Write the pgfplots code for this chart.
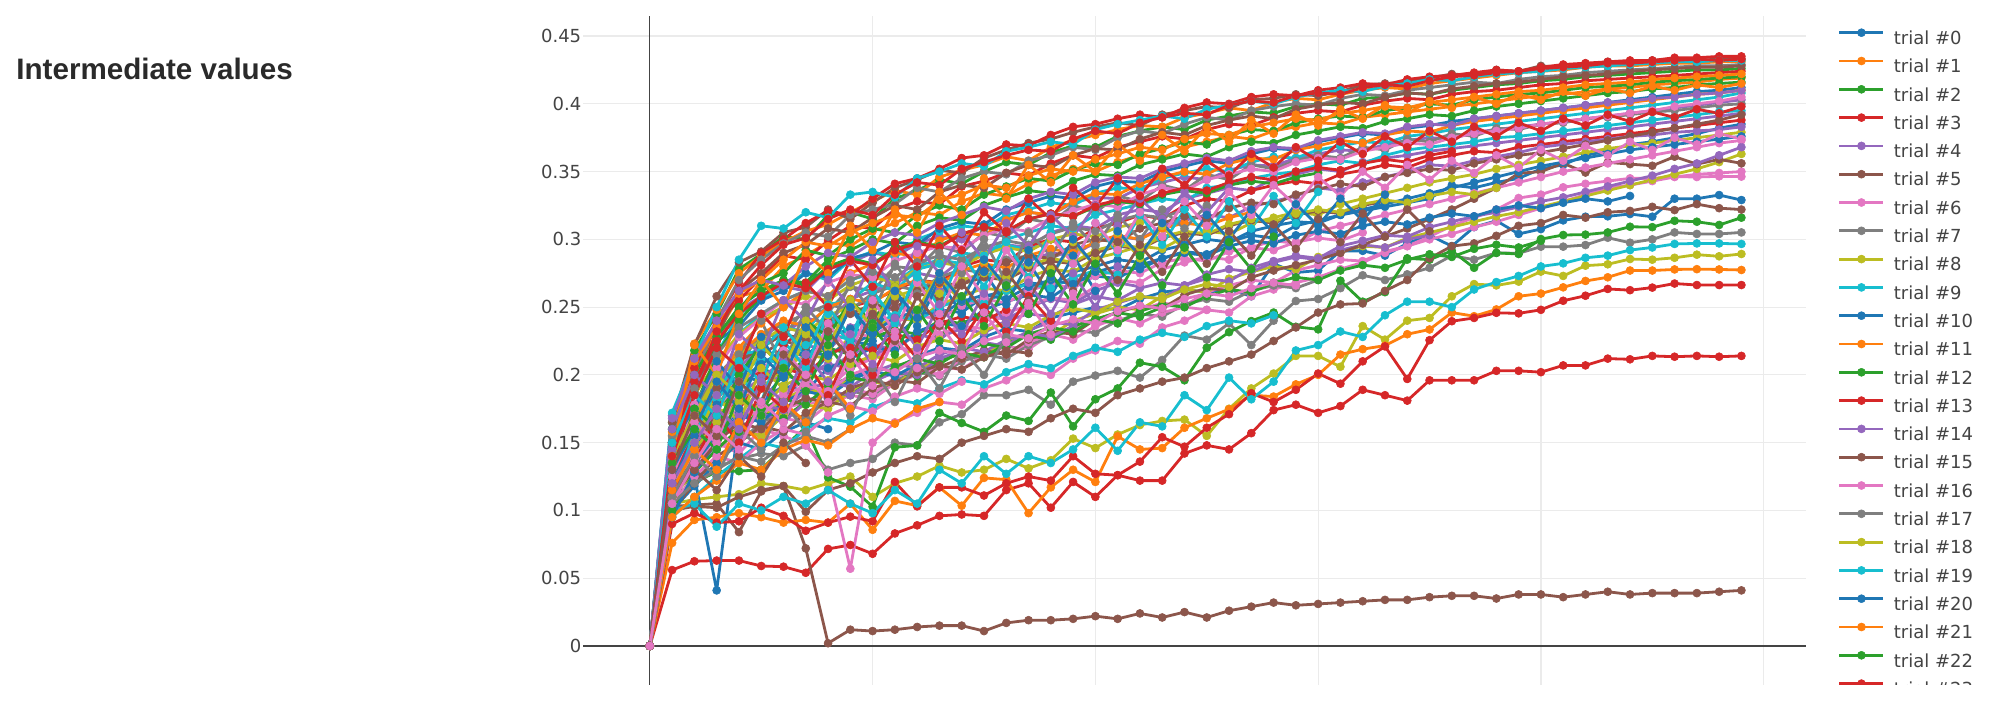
\documentclass[border=0pt]{standalone}
\usepackage{fontspec}
\setmainfont{DejaVu Sans}
\newfontfamily\titlefont{Liberation Sans}
\usepackage{pgfplots}
\pgfplotsset{compat=1.18}
\definecolor{c0}{HTML}{1F77B4}
\definecolor{c1}{HTML}{FF7F0E}
\definecolor{c2}{HTML}{2CA02C}
\definecolor{c3}{HTML}{D62728}
\definecolor{c4}{HTML}{9467BD}
\definecolor{c5}{HTML}{8C564B}
\definecolor{c6}{HTML}{E377C2}
\definecolor{c7}{HTML}{7F7F7F}
\definecolor{c8}{HTML}{BCBD22}
\definecolor{c9}{HTML}{17BECF}
\definecolor{tk}{HTML}{444444}
\definecolor{tt}{HTML}{2A2A2A}
\definecolor{gr}{HTML}{EBEBEB}
\newcommand{\T}[2]{\addplot[color=c#1] table[x expr=\coordindex,y index=0,header=false,row sep=\\]{#2\\};}
\begin{document}
\begin{tikzpicture}
\useasboundingbox (0,0) rectangle (999.5pt,350.5pt);
\node[anchor=base west, inner sep=0pt, text=tt, font=\titlefont\bfseries\fontsize{14.8}{16}\selectfont] at (8pt,310.5pt) {Intermediate values};
\begin{axis}[
 at={(291.5pt,8pt)}, anchor=south west, scale only axis, width=611.5pt, height=334.5pt,
 xmin=-3, xmax=51.9, ymin=-0.0288, ymax=0.4648,
 axis line style={draw=none}, tick style={draw=none},
 xtick={0,10,20,30,40,50}, xticklabels={},
 ytick={0,0.05,0.1,0.15,0.2,0.25,0.3,0.35,0.4,0.45},
 yticklabels={0,0.05,0.1,0.15,0.2,0.25,0.3,0.35,0.4,0.45},
 scaled y ticks=false,
 grid=major, major grid style={draw=gr, line width=0.6pt},
 extra x ticks={0}, extra x tick labels={}, extra x tick style={grid=major, major grid style={draw=tk, line width=0.6pt}},
 extra y ticks={0}, extra y tick labels={}, extra y tick style={grid=major, major grid style={draw=tk, line width=0.6pt}},
 yticklabel style={font=\fontsize{9}{9}\selectfont, text=tk, inner sep=0pt, xshift=-0.7pt},
 every axis plot/.append style={line width=1.4pt, mark=*, mark size=2pt, mark options={solid, line width=0.3pt}, line join=round},
 legend cell align=left,
 legend style={at={(1.0262,0.981)}, anchor=north west, draw=none, fill=none, inner sep=0pt, outer sep=0pt, font=\fontsize{9}{9}\selectfont, text=tk, row sep=4.3pt, column sep=4.5pt, nodes={inner sep=0pt, text height=7pt, text depth=2pt}},
 legend image code/.code={\draw[mark repeat=2,mark phase=2,#1] plot coordinates {(0pt,3.35pt)(11pt,3.35pt)(22pt,3.35pt)};},
 legend entries={trial \#0,trial \#1,trial \#2,trial \#3,trial \#4,trial \#5,trial \#6,trial \#7,trial \#8,trial \#9,trial \#10,trial \#11,trial \#12,trial \#13,trial \#14,trial \#15,trial \#16,trial \#17,trial \#18,trial \#19,trial \#20,trial \#21,trial \#22,trial \#23},
]
\T{0}{0\\0.125\\0.148\\0.160\\0.172\\0.165\\0.180\\0.188\\0.185\\0.198\\0.205\\0.203\\0.214\\0.220\\0.218\\0.228\\0.234\\0.232\\0.242\\0.246\\0.250\\0.248\\0.256\\0.261\\0.263\\0.261\\0.263\\0.258\\0.282\\0.2755\\0.277\\0.2915\\0.2915\\0.288\\0.297\\0.303\\0.295\\0.309\\0.3137\\0.304\\0.3076\\0.314\\0.3167\\0.317\\0.3187\\0.3167\\0.330\\0.330\\0.3327\\0.329}
\T{1}{0\\0.150\\0.205\\0.230\\0.258\\0.262\\0.280\\0.288\\0.298\\0.295\\0.306\\0.312\\0.320\\0.318\\0.328\\0.334\\0.332\\0.341\\0.347\\0.352\\0.350\\0.357\\0.362\\0.360\\0.368\\0.372\\0.376\\0.374\\0.380\\0.383\\0.386\\0.385\\0.390\\0.392\\0.394\\0.396\\0.398\\0.400\\0.402\\0.404\\0.406\\0.407\\0.409\\0.411\\0.412\\0.414\\0.415\\0.416\\0.418\\0.419}
\T{2}{0\\0.165\\0.218\\0.245\\0.278\\0.289\\0.302\\0.300\\0.318\\0.320\\0.315\\0.330\\0.336\\0.344\\0.341\\0.350\\0.357\\0.355\\0.364\\0.369\\0.368\\0.376\\0.380\\0.383\\0.381\\0.388\\0.391\\0.394\\0.393\\0.398\\0.400\\0.399\\0.404\\0.405\\0.408\\0.407\\0.410\\0.412\\0.414\\0.415\\0.417\\0.418\\0.420\\0.421\\0.422\\0.423\\0.424\\0.425\\0.425\\0.426}
\T{3}{0\\0.056\\0.0625\\0.063\\0.063\\0.059\\0.0585\\0.054\\0.0716\\0.0745\\0.068\\0.083\\0.089\\0.096\\0.097\\0.096\\0.115\\0.120\\0.102\\0.121\\0.110\\0.126\\0.122\\0.122\\0.142\\0.148\\0.145\\0.157\\0.174\\0.178\\0.172\\0.177\\0.189\\0.185\\0.181\\0.196\\0.196\\0.196\\0.203\\0.203\\0.202\\0.207\\0.207\\0.212\\0.2115\\0.214\\0.2134\\0.214\\0.2134\\0.214}
\T{4}{0\\0.170\\0.200\\0.228\\0.248\\0.258\\0.265\\0.262\\0.278\\0.283\\0.290\\0.287\\0.297\\0.302\\0.300\\0.310\\0.315\\0.320\\0.318\\0.327\\0.331\\0.330\\0.338\\0.342\\0.346\\0.344\\0.351\\0.355\\0.354\\0.360\\0.363\\0.366\\0.365\\0.370\\0.373\\0.375\\0.374\\0.379\\0.381\\0.383\\0.385\\0.387\\0.389\\0.391\\0.393\\0.395\\0.397\\0.399\\0.401\\0.403}
\T{5}{0\\0.103\\0.104\\0.105\\0.084\\0.114\\0.118\\0.072\\0.002\\0.012\\0.011\\0.012\\0.014\\0.015\\0.015\\0.011\\0.017\\0.019\\0.019\\0.020\\0.022\\0.020\\0.024\\0.021\\0.025\\0.021\\0.026\\0.029\\0.032\\0.030\\0.031\\0.032\\0.033\\0.034\\0.034\\0.036\\0.037\\0.037\\0.035\\0.038\\0.038\\0.036\\0.038\\0.040\\0.038\\0.039\\0.039\\0.039\\0.040\\0.041}
\T{6}{0\\0.118\\0.135\\0.150\\0.142\\0.160\\0.168\\0.165\\0.178\\0.185\\0.182\\0.194\\0.200\\0.206\\0.204\\0.215\\0.221\\0.219\\0.230\\0.235\\0.240\\0.238\\0.248\\0.253\\0.251\\0.261\\0.266\\0.270\\0.268\\0.277\\0.281\\0.285\\0.284\\0.291\\0.295\\0.300\\0.304\\0.309\\0.313\\0.318\\0.323\\0.328\\0.333\\0.338\\0.340\\0.343\\0.346\\0.348\\0.349\\0.350}
\T{7}{0\\0.120\\0.125\\0.132\\0.138\\0.142\\0.140\\0.148\\0.130\\0.135\\0.138\\0.150\\0.148\\0.165\\0.171\\0.185\\0.185\\0.189\\0.178\\0.195\\0.1995\\0.203\\0.198\\0.211\\0.229\\0.226\\0.238\\0.222\\0.240\\0.2545\\0.256\\0.264\\0.2735\\0.270\\0.2742\\0.279\\0.288\\0.285\\0.290\\0.2897\\0.2946\\0.2946\\0.2958\\0.3012\\0.2975\\0.300\\0.3051\\0.304\\0.304\\0.3051}
\T{8}{0\\0.105\\0.108\\0.110\\0.112\\0.120\\0.118\\0.115\\0.120\\0.125\\0.110\\0.120\\0.125\\0.133\\0.128\\0.130\\0.138\\0.131\\0.137\\0.153\\0.146\\0.156\\0.163\\0.166\\0.167\\0.155\\0.175\\0.190\\0.201\\0.214\\0.214\\0.206\\0.236\\0.226\\0.240\\0.242\\0.258\\0.267\\0.266\\0.2688\\0.2762\\0.273\\0.2806\\0.2816\\0.2855\\0.285\\0.2864\\0.2887\\0.2875\\0.2892}
\T{9}{0\\0.145\\0.190\\0.215\\0.245\\0.255\\0.268\\0.275\\0.270\\0.285\\0.291\\0.288\\0.300\\0.306\\0.310\\0.308\\0.318\\0.322\\0.327\\0.325\\0.334\\0.338\\0.337\\0.345\\0.349\\0.352\\0.350\\0.357\\0.361\\0.360\\0.366\\0.369\\0.372\\0.371\\0.376\\0.378\\0.381\\0.383\\0.385\\0.387\\0.389\\0.391\\0.393\\0.395\\0.397\\0.399\\0.401\\0.403\\0.405\\0.408}
\T{0}{0\\0.120\\0.125\\0.041\\0.165\\0.180\\0.200\\0.195\\0.215\\0.222\\0.230\\0.228\\0.242\\0.248\\0.246\\0.258\\0.262\\0.268\\0.266\\0.276\\0.280\\0.285\\0.283\\0.292\\0.296\\0.300\\0.298\\0.306\\0.310\\0.313\\0.312\\0.318\\0.321\\0.324\\0.327\\0.330\\0.340\\0.338\\0.342\\0.345\\0.352\\0.355\\0.362\\0.365\\0.370\\0.372\\0.375\\0.378\\0.382\\0.385}
\T{1}{0\\0.076\\0.093\\0.095\\0.098\\0.095\\0.091\\0.093\\0.091\\0.105\\0.0857\\0.107\\0.1035\\0.117\\0.1035\\0.124\\0.1227\\0.098\\0.117\\0.130\\0.121\\0.1547\\0.145\\0.146\\0.161\\0.168\\0.1747\\0.185\\0.184\\0.193\\0.200\\0.215\\0.219\\0.2216\\0.230\\0.2335\\0.246\\0.2433\\0.2483\\0.258\\0.260\\0.2646\\0.2693\\0.272\\0.277\\0.277\\0.2778\\0.278\\0.2778\\0.2774}
\T{2}{0\\0.110\\0.1205\\0.1286\\0.129\\0.130\\0.1466\\0.1613\\0.1244\\0.1175\\0.1028\\0.1466\\0.148\\0.172\\0.1645\\0.158\\0.170\\0.166\\0.187\\0.162\\0.182\\0.190\\0.209\\0.206\\0.196\\0.220\\0.2315\\0.2397\\0.246\\0.2355\\0.2336\\0.2695\\0.254\\0.261\\0.286\\0.285\\0.2915\\0.279\\0.290\\0.2892\\0.3002\\0.3032\\0.3035\\0.3051\\0.3093\\0.309\\0.3137\\0.313\\0.3106\\0.316}
\T{3}{0\\0.090\\0.098\\0.091\\0.092\\0.102\\0.096\\0.085\\0.091\\0.0954\\0.092\\0.121\\0.103\\0.117\\0.117\\0.111\\0.120\\0.125\\0.122\\0.140\\0.127\\0.126\\0.136\\0.154\\0.147\\0.161\\0.171\\0.1865\\0.180\\0.189\\0.201\\0.1935\\0.210\\0.221\\0.197\\0.2256\\0.2396\\0.242\\0.2458\\0.2454\\0.248\\0.2547\\0.2584\\0.2634\\0.2625\\0.2644\\0.2674\\0.2663\\0.2663\\0.2663}
\T{4}{0\\0.170\\0.172\\0.168\\0.185\\0.192\\0.200\\0.208\\0.203\\0.215\\0.222\\0.219\\0.230\\0.226\\0.238\\0.244\\0.241\\0.250\\0.256\\0.253\\0.262\\0.268\\0.265}
\T{5}{0\\0.100\\0.103\\0.102\\0.110\\0.115\\0.118\\0.099\\0.115\\0.120\\0.128\\0.135\\0.140\\0.138\\0.150\\0.155\\0.160\\0.158\\0.168\\0.175\\0.172\\0.185\\0.190\\0.195\\0.198\\0.205\\0.210\\0.215\\0.225\\0.235\\0.246\\0.252\\0.2527\\0.262\\0.270\\0.286\\0.295\\0.297\\0.3026\\0.310\\0.312\\0.318\\0.316\\0.320\\0.321\\0.324\\0.3216\\0.326\\0.323\\0.322}
\T{6}{0\\0.120\\0.138\\0.146\\0.152\\0.160\\0.155\\0.148\\0.128\\0.057\\0.150\\0.165\\0.172\\0.180\\0.178\\0.190\\0.196\\0.204\\0.200\\0.212\\0.218\\0.225\\0.223\\0.235\\0.240\\0.248\\0.246\\0.258\\0.263\\0.268\\0.272\\0.278\\0.283\\0.290\\0.295\\0.302\\0.310\\0.316\\0.322\\0.3305\\0.333\\0.3384\\0.341\\0.343\\0.345\\0.345\\0.3463\\0.346\\0.3465\\0.3463}
\T{7}{0\\0.130\\0.145\\0.155\\0.150\\0.165\\0.172\\0.168\\0.182\\0.188\\0.185\\0.196\\0.202\\0.199\\0.210\\0.215\\0.212\\0.222\\0.228\\0.233\\0.231\\0.240\\0.245\\0.243\\0.252\\0.256\\0.254\\0.262\\0.266\\0.264\\0.270}
\T{8}{0\\0.115\\0.140\\0.160\\0.175\\0.168\\0.182\\0.190\\0.186\\0.198\\0.195\\0.205\\0.210}
\T{9}{0\\0.100\\0.105\\0.088\\0.105\\0.100\\0.110\\0.105\\0.115\\0.105\\0.098\\0.115\\0.105\\0.130\\0.120\\0.140\\0.127\\0.140\\0.135\\0.145\\0.161\\0.144\\0.165\\0.162\\0.185\\0.174\\0.198\\0.182\\0.195\\0.218\\0.222\\0.232\\0.228\\0.244\\0.254\\0.254\\0.250\\0.263\\0.2685\\0.273\\0.280\\0.2823\\0.2864\\0.288\\0.2921\\0.294\\0.2966\\0.297\\0.297\\0.2966}
\T{0}{0\\0.100\\0.118\\0.135\\0.150\\0.145\\0.158\\0.165\\0.160}
\T{1}{0\\0.155\\0.223\\0.248\\0.275\\0.288\\0.298\\0.306\\0.311\\0.320\\0.328\\0.336\\0.333\\0.346\\0.351\\0.355\\0.361\\0.358\\0.368\\0.373\\0.377\\0.381\\0.384\\0.383\\0.390\\0.393\\0.397\\0.395\\0.401\\0.404\\0.403\\0.407\\0.410\\0.412\\0.411\\0.415\\0.417\\0.419\\0.421\\0.423\\0.424\\0.425\\0.427\\0.428\\0.428\\0.429\\0.430\\0.430\\0.431\\0.431}
\T{2}{0\\0.135\\0.158\\0.175\\0.190\\0.205\\0.198\\0.212\\0.220\\0.215\\0.228\\0.233\\0.230\\0.240\\0.238\\0.245}
\T{3}{0\\0.135\\0.200\\0.238\\0.255\\0.272\\0.288\\0.285\\0.299\\0.310\\0.308\\0.322\\0.328\\0.326\\0.339\\0.343\\0.349\\0.347\\0.356\\0.362\\0.360\\0.368\\0.372\\0.376\\0.374\\0.381\\0.385\\0.384\\0.390\\0.393\\0.395\\0.394\\0.399\\0.402\\0.404\\0.403\\0.407\\0.409\\0.410\\0.412\\0.414\\0.415\\0.417\\0.418\\0.419\\0.420\\0.421\\0.422\\0.423\\0.424}
\T{4}{0\\0.140\\0.165\\0.190\\0.205\\0.222\\0.230\\0.242\\0.238\\0.256\\0.262\\0.268\\0.275\\0.272\\0.285\\0.290\\0.296\\0.294\\0.305\\0.310\\0.308\\0.318\\0.322\\0.320\\0.330\\0.334\\0.338\\0.336\\0.345\\0.348\\0.352\\0.350\\0.357\\0.360\\0.362\\0.365\\0.367\\0.369\\0.371\\0.373\\0.375\\0.377\\0.379\\0.381\\0.383\\0.385\\0.387\\0.389\\0.391\\0.393}
\T{5}{0\\0.165\\0.222\\0.258\\0.283\\0.291\\0.305\\0.309\\0.322\\0.315\\0.327\\0.338\\0.344\\0.351\\0.349\\0.360\\0.366\\0.371\\0.374\\0.379\\0.383\\0.386\\0.384\\0.392\\0.395\\0.398\\0.397\\0.403\\0.404\\0.407\\0.406\\0.409\\0.414\\0.415\\0.416\\0.419\\0.422\\0.421\\0.425\\0.424\\0.428\\0.427\\0.429\\0.431\\0.430\\0.432\\0.433\\0.432\\0.433\\0.433}
\T{6}{0\\0.110\\0.130\\0.145\\0.160\\0.155\\0.175\\0.180\\0.178\\0.190\\0.186\\0.198\\0.205\\0.200\\0.212\\0.218\\0.215\\0.224\\0.230\\0.226\\0.236\\0.242\\0.238\\0.246\\0.250\\0.248}
\T{7}{0\\0.150\\0.175\\0.200\\0.208\\0.230\\0.228\\0.250\\0.246\\0.265\\0.262\\0.280\\0.278\\0.295\\0.290\\0.305\\0.302\\0.315\\0.312\\0.325\\0.320\\0.332\\0.328\\0.340\\0.336\\0.348\\0.344\\0.355\\0.352\\0.358\\0.362\\0.360\\0.368\\0.366\\0.374\\0.372\\0.378\\0.376\\0.382\\0.381\\0.385\\0.386\\0.389\\0.390\\0.392\\0.394\\0.395\\0.397\\0.399\\0.400}
\T{8}{0\\0.110\\0.128\\0.145\\0.160\\0.155\\0.170\\0.178\\0.175\\0.188\\0.195\\0.192\\0.205\\0.210\\0.216\\0.214\\0.225\\0.231\\0.229\\0.240\\0.245\\0.250\\0.248\\0.258\\0.263\\0.261\\0.271\\0.276\\0.280\\0.278\\0.287\\0.291\\0.295\\0.294\\0.301\\0.305\\0.309\\0.313\\0.317\\0.320\\0.324\\0.328\\0.332\\0.336\\0.340\\0.344\\0.348\\0.352\\0.357\\0.363}
\T{9}{0\\0.160\\0.175\\0.205\\0.230\\0.245\\0.255\\0.262\\0.258\\0.270\\0.275\\0.268\\0.280\\0.285\\0.282\\0.290\\0.296\\0.292\\0.300}
\T{0}{0\\0.160\\0.195\\0.225\\0.236\\0.255\\0.262\\0.275\\0.272\\0.286\\0.290\\0.298\\0.296\\0.308\\0.313\\0.311\\0.322\\0.327\\0.332\\0.330\\0.339\\0.343\\0.342\\0.350\\0.354\\0.358\\0.356\\0.363\\0.367\\0.366\\0.372\\0.375\\0.378\\0.377\\0.382\\0.384\\0.387\\0.389\\0.391\\0.393\\0.395\\0.397\\0.399\\0.401\\0.403\\0.405\\0.407\\0.409\\0.410\\0.412}
\T{1}{0\\0.120\\0.150\\0.170\\0.182\\0.190\\0.188}
\T{2}{0\\0.140\\0.190\\0.222\\0.248\\0.268\\0.275\\0.292\\0.288\\0.300\\0.308\\0.305\\0.318\\0.325\\0.322\\0.333\\0.339\\0.345\\0.343\\0.351\\0.356\\0.355\\0.363\\0.367\\0.372\\0.370\\0.377\\0.381\\0.380\\0.386\\0.389\\0.391\\0.390\\0.395\\0.397\\0.400\\0.399\\0.403\\0.405\\0.407\\0.408\\0.410\\0.412\\0.413\\0.414\\0.416\\0.417\\0.418\\0.419\\0.420}
\T{3}{0\\0.125\\0.160\\0.185\\0.205\\0.200\\0.222\\0.235\\0.232\\0.250\\0.255\\0.262\\0.270\\0.268\\0.280\\0.285\\0.283\\0.295\\0.300\\0.298\\0.308\\0.312\\0.318\\0.315\\0.325\\0.330\\0.328\\0.336\\0.340\\0.343\\0.341\\0.348\\0.351\\0.355\\0.353\\0.359\\0.362\\0.365\\0.364\\0.368\\0.370\\0.372\\0.374\\0.376\\0.378\\0.380\\0.382\\0.384\\0.386\\0.388}
\T{4}{0\\0.125\\0.150\\0.165\\0.180\\0.190\\0.188\\0.200\\0.208\\0.205\\0.215\\0.220\\0.218\\0.228\\0.234\\0.231\\0.240\\0.245\\0.243\\0.252\\0.258\\0.255\\0.264\\0.268\\0.266\\0.274\\0.278\\0.276\\0.283\\0.287\\0.285\\0.292\\0.296\\0.294\\0.300\\0.303}
\T{5}{0\\0.100\\0.120\\0.140\\0.150\\0.162\\0.158\\0.172\\0.180\\0.177\\0.190\\0.196\\0.194\\0.206\\0.212\\0.218\\0.215\\0.226\\0.232\\0.230\\0.241\\0.246\\0.251\\0.249\\0.259\\0.264\\0.262\\0.272\\0.277\\0.281\\0.285\\0.290\\0.296\\0.302\\0.308\\0.315\\0.322\\0.330\\0.338\\0.3487\\0.350\\0.3561\\0.3493\\0.3568\\0.3555\\0.3543\\0.361\\0.3555\\0.359\\0.3561}
\T{6}{0\\0.120\\0.140\\0.158\\0.175\\0.170\\0.188\\0.195\\0.190\\0.205\\0.212\\0.220\\0.218\\0.230\\0.236\\0.234\\0.246\\0.251\\0.257\\0.255\\0.265\\0.270\\0.268\\0.278\\0.283\\0.287\\0.285\\0.294\\0.299\\0.297\\0.306\\0.310\\0.314\\0.318\\0.322\\0.326\\0.330\\0.334\\0.338\\0.342\\0.346\\0.350\\0.353\\0.356\\0.359\\0.362\\0.365\\0.368\\0.371\\0.373}
\T{7}{0\\0.140\\0.175\\0.200\\0.215\\0.228\\0.238\\0.245\\0.252\\0.248\\0.260\\0.266\\0.262\\0.272\\0.278\\0.275\\0.285\\0.288\\0.286\\0.293\\0.296}
\T{8}{0\\0.130\\0.150\\0.175\\0.170\\0.190\\0.205\\0.215\\0.212\\0.228\\0.235\\0.242\\0.240\\0.252\\0.258\\0.264\\0.262\\0.272\\0.278\\0.276\\0.286\\0.290\\0.295\\0.293\\0.302\\0.306\\0.304\\0.312\\0.316\\0.320\\0.318\\0.326\\0.330\\0.334\\0.338\\0.342\\0.345\\0.348\\0.352\\0.355\\0.358\\0.361\\0.364\\0.367\\0.369\\0.371\\0.373\\0.375\\0.377\\0.379}
\T{9}{0\\0.095\\0.110\\0.125\\0.138\\0.150\\0.146\\0.160\\0.168\\0.165\\0.176\\0.182\\0.179\\0.190\\0.196\\0.193\\0.202\\0.208\\0.205\\0.214\\0.220\\0.217\\0.226\\0.231\\0.228\\0.236\\0.240\\0.238\\0.244}
\T{0}{0\\0.150\\0.170\\0.185\\0.200\\0.195\\0.210\\0.218\\0.214\\0.225\\0.222}
\T{1}{0\\0.110\\0.160\\0.195\\0.220\\0.238\\0.250\\0.262\\0.258\\0.275\\0.282\\0.290\\0.287\\0.299\\0.305\\0.303\\0.314\\0.320\\0.318\\0.328\\0.334\\0.333\\0.341\\0.346\\0.350\\0.348\\0.356\\0.360\\0.359\\0.366\\0.369\\0.373\\0.371\\0.377\\0.380\\0.379\\0.384\\0.387\\0.389\\0.391\\0.393\\0.395\\0.397\\0.399\\0.401\\0.403\\0.405\\0.407\\0.408\\0.410}
\T{2}{0\\0.100\\0.128\\0.145\\0.160\\0.172\\0.168\\0.180\\0.188\\0.185\\0.196\\0.202\\0.199\\0.210\\0.216\\0.213\\0.223\\0.229\\0.226\\0.236\\0.241\\0.238\\0.247\\0.252\\0.250\\0.258\\0.263\\0.261\\0.268\\0.272\\0.270\\0.277\\0.281\\0.279\\0.285\\0.289\\0.287\\0.293\\0.296\\0.294\\0.299}
\T{3}{0\\0.150\\0.205\\0.240\\0.268\\0.290\\0.300\\0.312\\0.321\\0.318\\0.330\\0.341\\0.345\\0.352\\0.360\\0.362\\0.370\\0.369\\0.377\\0.383\\0.385\\0.389\\0.392\\0.390\\0.397\\0.401\\0.400\\0.405\\0.407\\0.406\\0.410\\0.412\\0.415\\0.414\\0.418\\0.420\\0.421\\0.423\\0.425\\0.424\\0.427\\0.429\\0.430\\0.431\\0.432\\0.432\\0.434\\0.434\\0.435\\0.435}
\T{4}{0\\0.105\\0.140\\0.165\\0.185\\0.198\\0.210\\0.222\\0.218\\0.235\\0.242\\0.250\\0.248\\0.262\\0.268\\0.275\\0.272\\0.284\\0.290\\0.288\\0.298\\0.302\\0.300\\0.310\\0.314\\0.318\\0.316\\0.324\\0.328\\0.332\\0.338\\0.336\\0.342\\0.346\\0.350\\0.355\\0.354\\0.358\\0.361\\0.364\\0.368\\0.370\\0.372\\0.374\\0.376\\0.377\\0.379\\0.380\\0.381\\0.383}
\T{5}{0\\0.145\\0.168\\0.190\\0.210\\0.220\\0.230\\0.226\\0.240\\0.246\\0.243\\0.254\\0.260\\0.257\\0.267\\0.272\\0.270\\0.279\\0.284\\0.282\\0.290\\0.295\\0.293\\0.301\\0.305\\0.303\\0.310\\0.314\\0.312\\0.318\\0.321\\0.319\\0.325\\0.328}
\T{6}{0\\0.105\\0.125\\0.140\\0.135\\0.150\\0.160\\0.156\\0.170\\0.177\\0.173\\0.184\\0.190\\0.186\\0.195}
\T{7}{0\\0.145\\0.198\\0.240\\0.270\\0.285\\0.297\\0.305\\0.302\\0.318\\0.322\\0.326\\0.338\\0.335\\0.345\\0.350\\0.348\\0.358\\0.362\\0.368\\0.366\\0.375\\0.380\\0.378\\0.385\\0.390\\0.388\\0.395\\0.398\\0.400\\0.399\\0.404\\0.407\\0.406\\0.410\\0.412\\0.414\\0.416\\0.415\\0.418\\0.420\\0.421\\0.423\\0.424\\0.425\\0.426\\0.427\\0.428\\0.428\\0.429}
\T{8}{0\\0.150\\0.185\\0.210\\0.230\\0.242\\0.250\\0.258\\0.255\\0.266\\0.272\\0.268\\0.278\\0.283\\0.280\\0.289\\0.294\\0.291\\0.300\\0.304\\0.302\\0.309\\0.312}
\T{9}{0\\0.120\\0.160\\0.185\\0.215\\0.218\\0.235\\0.232\\0.252\\0.255\\0.268\\0.262\\0.278\\0.282\\0.290\\0.288\\0.300\\0.305\\0.310\\0.308\\0.318\\0.322\\0.326\\0.330\\0.328\\0.338\\0.340\\0.345\\0.348\\0.350\\0.355\\0.358\\0.356\\0.362\\0.366\\0.368\\0.370\\0.372\\0.375\\0.376\\0.378\\0.380\\0.382\\0.384\\0.386\\0.388\\0.390\\0.392\\0.394\\0.395}
\T{0}{0\\0.095\\0.128\\0.150\\0.168\\0.180\\0.192\\0.188\\0.205\\0.212\\0.220\\0.218\\0.232\\0.238\\0.236\\0.248\\0.254\\0.259\\0.257\\0.268\\0.273\\0.271\\0.281\\0.286\\0.291\\0.289\\0.298\\0.303\\0.301\\0.310\\0.314\\0.318\\0.322\\0.326\\0.330\\0.334\\0.338\\0.342\\0.346\\0.350\\0.354\\0.357\\0.360\\0.363\\0.366\\0.368\\0.370\\0.372\\0.374\\0.376}
\T{1}{0\\0.130\\0.165\\0.195\\0.215\\0.230\\0.240\\0.236\\0.250\\0.256\\0.253\\0.264\\0.270\\0.267\\0.277\\0.282\\0.279\\0.288\\0.293\\0.290\\0.298\\0.303\\0.300\\0.308\\0.312\\0.310\\0.316\\0.320}
\T{2}{0\\0.125\\0.175\\0.215\\0.240\\0.258\\0.270\\0.268\\0.285\\0.292\\0.300\\0.297\\0.310\\0.316\\0.314\\0.325\\0.331\\0.336\\0.334\\0.343\\0.348\\0.347\\0.355\\0.359\\0.363\\0.361\\0.368\\0.372\\0.371\\0.377\\0.380\\0.383\\0.382\\0.387\\0.389\\0.392\\0.391\\0.395\\0.398\\0.400\\0.402\\0.404\\0.406\\0.408\\0.409\\0.411\\0.412\\0.414\\0.415\\0.416}
\T{3}{0\\0.125\\0.155\\0.180\\0.175\\0.195\\0.205\\0.200\\0.215\\0.222\\0.218\\0.230\\0.226\\0.238\\0.243\\0.240\\0.248}
\T{4}{0\\0.150\\0.160\\0.168\\0.155\\0.172\\0.165\\0.180\\0.188\\0.185\\0.195\\0.202\\0.200\\0.212\\0.218\\0.224\\0.221\\0.233\\0.239\\0.237\\0.248\\0.253\\0.258\\0.256\\0.266\\0.271\\0.269\\0.279\\0.284\\0.288\\0.286\\0.295\\0.299\\0.303\\0.302\\0.309\\0.313\\0.317\\0.320\\0.324\\0.328\\0.331\\0.335\\0.339\\0.343\\0.347\\0.352\\0.356\\0.362\\0.368}
\T{5}{0\\0.120\\0.185\\0.228\\0.262\\0.275\\0.290\\0.296\\0.308\\0.305\\0.316\\0.325\\0.322\\0.335\\0.340\\0.338\\0.349\\0.355\\0.353\\0.362\\0.367\\0.366\\0.374\\0.379\\0.377\\0.384\\0.388\\0.391\\0.389\\0.396\\0.399\\0.401\\0.400\\0.405\\0.408\\0.407\\0.411\\0.413\\0.415\\0.416\\0.418\\0.420\\0.421\\0.422\\0.424\\0.425\\0.426\\0.427\\0.427\\0.428}
\T{6}{0\\0.130\\0.178\\0.205\\0.228\\0.242\\0.255\\0.252\\0.268\\0.274\\0.272\\0.284\\0.290\\0.295\\0.293\\0.303\\0.308\\0.306\\0.316\\0.321\\0.326\\0.324\\0.333\\0.338\\0.336\\0.344\\0.348\\0.352\\0.350\\0.357\\0.360\\0.359\\0.365\\0.368\\0.371\\0.370\\0.375\\0.378\\0.380\\0.382\\0.385\\0.387\\0.389\\0.391\\0.393\\0.395\\0.398\\0.400\\0.402\\0.405}
\T{7}{0\\0.155\\0.190\\0.215\\0.235\\0.245\\0.255\\0.262\\0.258\\0.270\\0.276\\0.272\\0.283\\0.288\\0.285\\0.294\\0.299\\0.296\\0.304\\0.309\\0.306\\0.314\\0.318\\0.316\\0.322}
\T{8}{0\\0.135\\0.170\\0.195\\0.215\\0.225\\0.235\\0.231\\0.244\\0.250\\0.247\\0.258\\0.263\\0.260\\0.270\\0.275\\0.272\\0.281\\0.286\\0.283\\0.292\\0.296\\0.294\\0.302\\0.306\\0.304\\0.311\\0.315\\0.313\\0.319\\0.322\\0.320\\0.326\\0.329\\0.327\\0.332\\0.335\\0.333\\0.338}
\T{9}{0\\0.172\\0.212\\0.250\\0.285\\0.310\\0.308\\0.320\\0.316\\0.333\\0.335\\0.331\\0.345\\0.350\\0.356\\0.354\\0.365\\0.368\\0.372\\0.370\\0.381\\0.385\\0.388\\0.391\\0.389\\0.396\\0.399\\0.402\\0.400\\0.405\\0.408\\0.410\\0.409\\0.413\\0.415\\0.418\\0.417\\0.420\\0.422\\0.423\\0.424\\0.426\\0.427\\0.428\\0.429\\0.430\\0.431\\0.431\\0.432\\0.432}
\T{0}{0\\0.110\\0.135\\0.155\\0.170\\0.165\\0.180\\0.188\\0.184\\0.196\\0.203\\0.199\\0.208}
\T{1}{0\\0.158\\0.210\\0.235\\0.260\\0.270\\0.285\\0.298\\0.295\\0.305\\0.312\\0.318\\0.316\\0.329\\0.333\\0.340\\0.338\\0.347\\0.352\\0.350\\0.359\\0.363\\0.368\\0.366\\0.374\\0.378\\0.377\\0.383\\0.386\\0.389\\0.388\\0.393\\0.395\\0.398\\0.397\\0.401\\0.403\\0.405\\0.407\\0.409\\0.410\\0.412\\0.414\\0.415\\0.416\\0.418\\0.419\\0.420\\0.421\\0.422}
\T{2}{0\\0.160\\0.200\\0.228\\0.250\\0.262\\0.270\\0.266\\0.280\\0.286\\0.282\\0.293\\0.298\\0.295\\0.304\\0.309\\0.306\\0.315\\0.319\\0.317\\0.324\\0.328\\0.326\\0.333\\0.336\\0.334\\0.340\\0.343\\0.341\\0.346\\0.349}
\T{3}{0\\0.130\\0.190\\0.232\\0.262\\0.281\\0.296\\0.301\\0.315\\0.322\\0.318\\0.333\\0.342\\0.340\\0.352\\0.357\\0.362\\0.366\\0.365\\0.374\\0.380\\0.378\\0.386\\0.390\\0.393\\0.392\\0.399\\0.402\\0.401\\0.406\\0.408\\0.407\\0.412\\0.414\\0.413\\0.417\\0.420\\0.421\\0.423\\0.424\\0.426\\0.427\\0.428\\0.430\\0.430\\0.431\\0.432\\0.433\\0.432\\0.433}
\T{4}{0\\0.145\\0.160\\0.150\\0.170\\0.178\\0.174\\0.188\\0.195\\0.191\\0.202\\0.208\\0.205\\0.215\\0.220\\0.217\\0.226\\0.231\\0.228\\0.236}
\T{5}{0\\0.105\\0.140\\0.175\\0.198\\0.215\\0.225\\0.221\\0.238\\0.245\\0.252\\0.249\\0.262\\0.268\\0.266\\0.277\\0.283\\0.288\\0.286\\0.296\\0.300\\0.298\\0.308\\0.312\\0.317\\0.315\\0.323\\0.327\\0.326\\0.333\\0.337\\0.341\\0.339\\0.346\\0.349\\0.352\\0.351\\0.356\\0.359\\0.362\\0.364\\0.367\\0.370\\0.373\\0.376\\0.379\\0.382\\0.385\\0.388\\0.392}
\T{6}{0\\0.115\\0.150\\0.175\\0.195\\0.205\\0.215\\0.211\\0.225\\0.231\\0.228\\0.239\\0.244\\0.241\\0.251\\0.256\\0.253\\0.262\\0.267\\0.264\\0.273\\0.277\\0.275\\0.283\\0.286\\0.284\\0.291\\0.294\\0.292\\0.298\\0.301\\0.299\\0.305}
\T{7}{0\\0.105\\0.120\\0.130\\0.140\\0.136\\0.148\\0.155\\0.150\\0.160}
\T{8}{0\\0.120\\0.145\\0.165\\0.180\\0.176\\0.192\\0.200\\0.196\\0.208\\0.214\\0.210\\0.221\\0.226\\0.223\\0.233\\0.238\\0.235\\0.244\\0.249\\0.246\\0.254\\0.258\\0.256\\0.263\\0.267\\0.265}
\T{9}{0\\0.130\\0.160\\0.182\\0.200\\0.212\\0.208\\0.222\\0.230\\0.226\\0.238\\0.244\\0.240\\0.250\\0.256\\0.253\\0.262\\0.267\\0.264\\0.272\\0.277\\0.274}
\T{0}{0\\0.120\\0.155\\0.178\\0.195\\0.208\\0.218\\0.214\\0.228\\0.234\\0.231\\0.242\\0.247\\0.244\\0.254\\0.259\\0.256\\0.265\\0.270\\0.267\\0.276\\0.280\\0.278\\0.286\\0.290\\0.288\\0.295\\0.299\\0.297\\0.303\\0.306\\0.304\\0.310\\0.313\\0.311\\0.316\\0.319\\0.317\\0.322\\0.325\\0.323\\0.327\\0.330\\0.328\\0.332}
\T{1}{0\\0.095\\0.110\\0.122\\0.135\\0.130\\0.145\\0.152\\0.148\\0.160\\0.168\\0.164\\0.175\\0.180}
\T{2}{0\\0.115\\0.140\\0.160\\0.158\\0.175\\0.182\\0.178\\0.192\\0.198\\0.195\\0.206\\0.212\\0.208\\0.218\\0.223\\0.220\\0.230\\0.235\\0.232\\0.241\\0.246\\0.243\\0.250}
\T{3}{0\\0.150\\0.195\\0.225\\0.245\\0.258\\0.268\\0.264\\0.278\\0.284\\0.281\\0.292\\0.297\\0.294\\0.304\\0.309\\0.306\\0.315\\0.319\\0.317\\0.325\\0.329\\0.327\\0.334\\0.338\\0.336\\0.342\\0.346\\0.344\\0.350\\0.353\\0.351\\0.356\\0.359\\0.357\\0.362\\0.365}
\T{4}{0\\0.168\\0.212\\0.240\\0.262\\0.270\\0.266\\0.280\\0.290\\0.287\\0.298\\0.305\\0.303\\0.312\\0.318\\0.324\\0.321\\0.330\\0.335\\0.333\\0.342\\0.346\\0.345\\0.352\\0.356\\0.360\\0.358\\0.365\\0.368\\0.367\\0.373\\0.376\\0.379\\0.378\\0.383\\0.385\\0.384\\0.389\\0.391\\0.393\\0.395\\0.397\\0.399\\0.401\\0.402\\0.404\\0.405\\0.407\\0.408\\0.410}
\T{5}{0\\0.110\\0.130\\0.150\\0.165\\0.160\\0.175\\0.183\\0.179\\0.190\\0.196\\0.192\\0.202\\0.207\\0.204\\0.213\\0.218\\0.216}
\T{6}{0\\0.120\\0.140\\0.160\\0.175\\0.170\\0.185\\0.192\\0.188\\0.200\\0.206\\0.202\\0.213\\0.218\\0.215\\0.225\\0.230\\0.227\\0.236\\0.241\\0.238\\0.247\\0.251\\0.249\\0.256\\0.260\\0.258\\0.264\\0.268\\0.266}
\T{7}{0\\0.135\\0.190\\0.170\\0.215\\0.240\\0.205\\0.250\\0.232\\0.268\\0.245\\0.282\\0.260\\0.290\\0.275\\0.300\\0.268\\0.305\\0.288\\0.312\\0.295\\0.318\\0.300\\0.322\\0.308\\0.325}
\T{8}{0\\0.110\\0.150\\0.185\\0.165\\0.205\\0.190\\0.230\\0.215\\0.250\\0.228\\0.262\\0.240\\0.270\\0.255}
\T{9}{0\\0.105\\0.160\\0.145\\0.200\\0.180\\0.225\\0.205\\0.245\\0.222\\0.262\\0.238\\0.275\\0.250\\0.290\\0.265\\0.298\\0.272\\0.305\\0.282\\0.312\\0.290\\0.318\\0.296\\0.322\\0.302\\0.328\\0.308\\0.332\\0.312\\0.335}
\T{0}{0\\0.150\\0.175\\0.210\\0.190\\0.228\\0.200\\0.238\\0.215\\0.250\\0.225\\0.262\\0.236\\0.270\\0.245\\0.276\\0.252\\0.283\\0.258\\0.288\\0.262}
\T{1}{0\\0.140\\0.222\\0.200\\0.245\\0.270\\0.250\\0.290\\0.275\\0.310\\0.292\\0.322\\0.305\\0.335\\0.318\\0.345\\0.330\\0.355\\0.342\\0.362\\0.350\\0.370\\0.358\\0.377\\0.365\\0.383\\0.372\\0.388\\0.378\\0.392\\0.384\\0.396\\0.389\\0.399\\0.393\\0.402\\0.397\\0.405\\0.400\\0.407\\0.403\\0.409\\0.406\\0.411\\0.408\\0.413\\0.410\\0.414\\0.412\\0.415}
\T{2}{0\\0.125\\0.175\\0.160\\0.200\\0.222\\0.205\\0.240\\0.228\\0.255\\0.238\\0.265}
\T{3}{0\\0.115\\0.135\\0.170\\0.150\\0.190\\0.175\\0.210\\0.185\\0.220\\0.200\\0.232\\0.212\\0.242\\0.225\\0.250\\0.232\\0.258\\0.240}
\T{4}{0\\0.160\\0.200\\0.185\\0.230\\0.215\\0.255\\0.240\\0.270\\0.250\\0.285\\0.262\\0.295\\0.275\\0.305\\0.285\\0.312\\0.295\\0.318\\0.302\\0.325\\0.310\\0.330\\0.315\\0.335\\0.320\\0.338}
\T{5}{0\\0.120\\0.130\\0.115\\0.140\\0.125\\0.150\\0.135}
\T{6}{0\\0.125\\0.165\\0.150\\0.195\\0.178\\0.218\\0.200\\0.238\\0.215\\0.255\\0.232\\0.268\\0.245\\0.280\\0.258\\0.292\\0.270\\0.302\\0.282\\0.312\\0.292\\0.320\\0.302\\0.328\\0.310\\0.335\\0.318\\0.340\\0.325\\0.346\\0.332\\0.350\\0.338\\0.355\\0.344\\0.358\\0.349\\0.362\\0.353\\0.366\\0.358\\0.369\\0.362\\0.372\\0.366\\0.375\\0.370\\0.378\\0.374}
\T{7}{0\\0.110\\0.140\\0.125\\0.160\\0.145\\0.180\\0.158\\0.195\\0.170\\0.205\\0.180\\0.212\\0.190\\0.220\\0.200\\0.228}
\T{8}{0\\0.140\\0.170\\0.200\\0.185\\0.222\\0.205\\0.240\\0.220\\0.255\\0.235\\0.265\\0.248\\0.275\\0.256\\0.284\\0.264\\0.292\\0.272\\0.298\\0.280\\0.305\\0.286\\0.310\\0.292}
\T{9}{0\\0.150\\0.185\\0.170\\0.210\\0.195\\0.235\\0.215\\0.250\\0.228\\0.262\\0.240\\0.272}
\T{0}{0\\0.130\\0.160\\0.195\\0.175\\0.215\\0.198\\0.235\\0.215\\0.250\\0.230\\0.262\\0.242\\0.275\\0.255\\0.285\\0.265\\0.292\\0.272\\0.300\\0.280\\0.306\\0.288\\0.312\\0.294\\0.318\\0.300\\0.322\\0.305\\0.326\\0.310\\0.330\\0.314\\0.333}
\T{1}{0\\0.115\\0.145\\0.130\\0.165\\0.150\\0.180\\0.165\\0.195\\0.175}
\T{2}{0\\0.135\\0.160\\0.145\\0.185\\0.170\\0.205\\0.188\\0.222\\0.200\\0.235\\0.215\\0.248\\0.225\\0.258\\0.236\\0.266\\0.245\\0.275\\0.252\\0.282\\0.260\\0.288\\0.266\\0.294\\0.272\\0.298\\0.278\\0.302}
\T{3}{0\\0.140\\0.185\\0.220\\0.205\\0.245\\0.228\\0.268\\0.250\\0.285\\0.265\\0.298\\0.280\\0.310\\0.292\\0.320\\0.305\\0.330\\0.315\\0.338\\0.324\\0.345\\0.332\\0.352\\0.340\\0.358\\0.347\\0.363\\0.353\\0.368\\0.358\\0.372\\0.363\\0.376\\0.368\\0.380\\0.372\\0.383\\0.376\\0.386\\0.380\\0.389\\0.384\\0.392\\0.387\\0.394\\0.390\\0.396\\0.393\\0.398}
\T{4}{0\\0.120\\0.150\\0.175\\0.160\\0.195\\0.180\\0.215\\0.195\\0.230\\0.208\\0.242\\0.220\\0.252\\0.230\\0.260\\0.238\\0.268\\0.245\\0.275\\0.250\\0.280}
\T{5}{0\\0.130\\0.170\\0.155\\0.195\\0.180\\0.215\\0.198\\0.232\\0.212\\0.245\\0.225\\0.258\\0.236\\0.268\\0.246\\0.276\\0.255\\0.284\\0.262\\0.290\\0.270\\0.296\\0.276\\0.302\\0.282\\0.306\\0.288\\0.311\\0.293\\0.315\\0.298\\0.319\\0.302\\0.322\\0.306}
\T{6}{0\\0.105\\0.135\\0.160\\0.145\\0.180\\0.165\\0.200\\0.180\\0.215\\0.192\\0.228\\0.205\\0.238\\0.215\\0.246\\0.224\\0.253\\0.230\\0.260}
\end{axis}
\fill[white] (905pt,0pt) rectangle (999.5pt,8pt);
\end{tikzpicture}
\end{document}
